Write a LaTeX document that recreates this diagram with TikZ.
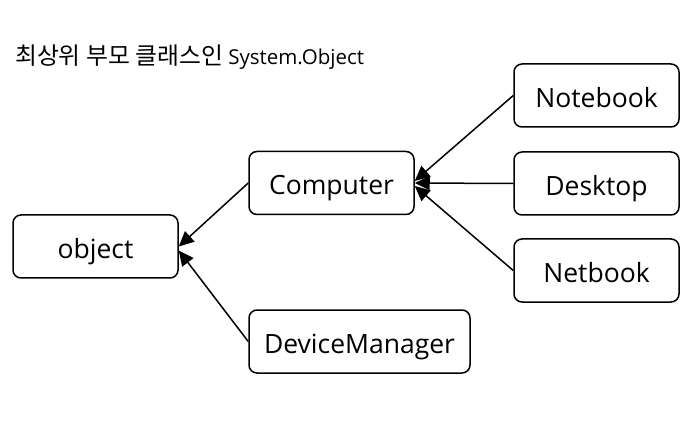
\documentclass[tikz,border=0pt]{standalone}
\usepackage{fontspec}
\setmainfont{Open Sans}
\newfontfamily\krfont{Noto Sans CJK KR}
\usetikzlibrary{arrows.meta}

\begin{document}
\begin{tikzpicture}[x=1pt,y=-1pt]

      \useasboundingbox (0,0) rectangle (697,425);

      \node[anchor=west,inner sep=0pt,font=\fontsize{20.5}{24}\selectfont] (title) at (15,57) {{\krfont\fontsize{23.8}{26}\selectfont 최상위 부모 클래스인} System.Object};

      \begin{scope}[every node/.style={draw,line width=1.5pt,rounded corners=8pt,minimum width=165pt,minimum height=63pt,text height=24pt,text depth=0pt,font=\fontsize{26.5}{30}\selectfont}]
        \node (object)   at (95.5,246.5) {object};
        \node (computer) at (331.5,183)  {Computer};
        \node[minimum width=221pt] (manager) at (359.5,341.5) {DeviceManager};
        \node (notebook) at (596.5,95.5)  {Notebook};
        \node (desktop)  at (596.5,183.5) {Desktop};
        \node (netbook)  at (596.5,270.5) {Netbook};
      \end{scope}

      \begin{scope}[every edge/.style={draw,line width=1.5pt,-{Triangle[length=15pt,width=14pt]}}]
        \path (computer.west) edge (object.east);
        \path (manager.west)  edge ([yshift=-4pt]object.east);
        \path (notebook.west) edge ([yshift=2pt]computer.east);
        \path (desktop.west)  edge (computer.east);
        \path (netbook.west)  edge ([yshift=-3pt]computer.east);
      \end{scope}

    \end{tikzpicture}
\end{document}
